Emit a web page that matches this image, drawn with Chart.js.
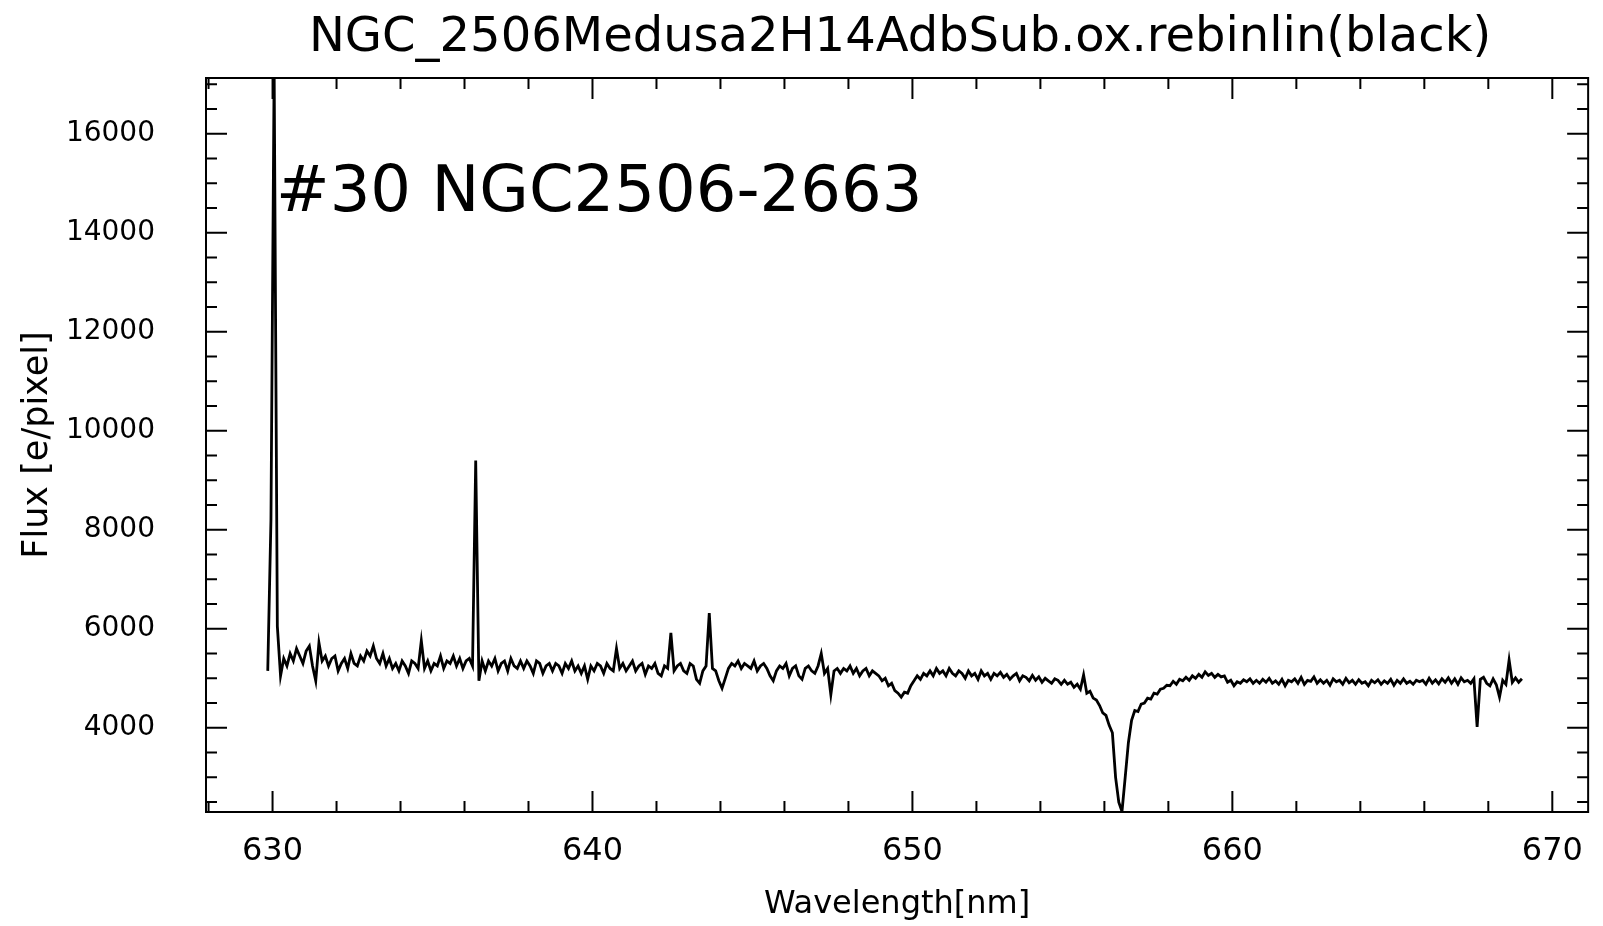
<!DOCTYPE html>
<html>
<head>
<meta charset="utf-8">
<script src="https://cdn.jsdelivr.net/npm/chart.js@4.4.1/dist/chart.umd.min.js"></script>
<style>
  html, body { margin: 0; padding: 0; background: #ffffff; }
  canvas { display: block; }
</style>
</head>
<body>
<canvas id="spectrumChart" width="1603" height="926"></canvas>
<script>
// spectrum sampled every 0.1 nm starting at 629.85 nm
const lambdaStart = 629.85;
const lambdaStep = 0.1;

const flux = [
  5150, 8200, 17300, 6050, 5050, 5400, 5250, 5500, 5350, 5600,
  5450, 5300, 5550, 5650, 5250, 4950, 5720, 5350, 5450, 5250,
  5400, 5450, 5150, 5300, 5400, 5200, 5500, 5300, 5250, 5450,
  5350, 5550, 5450, 5650, 5400, 5300, 5500, 5250, 5400, 5200,
  5300, 5150, 5350, 5250, 5100, 5350, 5300, 5200, 5760, 5200,
  5350, 5150, 5300, 5250, 5450, 5200, 5350, 5300, 5450, 5250,
  5400, 5200, 5350, 5400, 5250, 9400, 4950, 5350, 5150, 5350,
  5250, 5400, 5150, 5300, 5350, 5150, 5400, 5250, 5200, 5350,
  5200, 5350, 5250, 5100, 5350, 5300, 5100, 5250, 5300, 5150,
  5300, 5250, 5100, 5300, 5200, 5350, 5150, 5250, 5100, 5250,
  4980, 5250, 5150, 5300, 5250, 5100, 5300, 5200, 5150, 5600,
  5200, 5300, 5150, 5250, 5350, 5150, 5250, 5300, 5080, 5250,
  5200, 5300, 5100, 5050, 5250, 5200, 5920, 5150, 5250, 5300,
  5150, 5100, 5300, 5250, 4980, 4900, 5150, 5250, 6320, 5200,
  5150, 4950, 4800, 5000, 5200, 5300, 5250, 5350, 5200, 5300,
  5250, 5200, 5350, 5150, 5250, 5300, 5200, 5050, 4950, 5150,
  5250, 5200, 5300, 5050, 5200, 5250, 5050, 4980, 5200, 5250,
  5150, 5100, 5250, 5500, 5100, 5200, 4670, 5150, 5200, 5100,
  5200, 5150, 5250, 5100, 5200, 5050, 5150, 5200, 5050, 5150,
  5100, 5050, 4950, 5000, 4850, 4900, 4750, 4700, 4620, 4720,
  4700, 4850, 4950, 5050, 4980, 5100, 5050, 5150, 5050, 5200,
  5100, 5150, 5050, 5200, 5100, 5050, 5150, 5100, 5000, 5150,
  5050, 5100, 4980, 5150, 5050, 5100, 4980, 5100, 5050, 5120,
  5020, 5080, 4980, 5050, 5100, 4950, 5050, 5020, 4950, 5060,
  4960, 5030, 4920, 5000, 4950, 4900, 4990, 4960, 4880, 4960,
  4880, 4920, 4820, 4880, 4780, 5070, 4700, 4740, 4600, 4560,
  4450, 4300, 4250, 4050, 3900, 3000, 2500, 2310, 3000, 3700,
  4150, 4350, 4330, 4480, 4500, 4600, 4580, 4700, 4680, 4780,
  4800, 4860, 4850, 4940, 4880, 4980, 4950, 5020, 4960, 5050,
  5000, 5080, 5020, 5130, 5060, 5100, 5020, 5080, 5030, 5050,
  4920, 4960, 4850, 4930, 4900, 4970, 4930, 4990, 4900, 4960,
  4900, 4980, 4920, 5000, 4900, 4950, 4880, 4980, 4850, 4960,
  4930, 4990, 4900, 5020, 4880, 4960, 4940, 5030, 4900, 4970,
  4900, 4960, 4860, 4990, 4930, 4960, 4880, 5000, 4910, 4960,
  4880, 4970, 4900, 4930, 4850, 4960, 4910, 4970, 4880, 4950,
  4900, 4980, 4860, 4960, 4900, 4990, 4900, 4940, 4880, 4960,
  4930, 4960, 4880, 5000, 4900, 4970, 4890, 4990, 4920, 5010,
  4900, 4990, 4880, 5010, 4930, 4960, 4900, 4990, 4020, 4980,
  5020, 4900, 4850, 4990, 4870, 4620, 4960, 4880, 5370, 4920,
  5010, 4920, 4990
];

const xTickValues = [630, 640, 650, 660, 670];
const yTickValues = [4000, 6000, 8000, 10000, 12000, 14000, 16000];

const xRange = [627.92, 671.12];
const yRange = [2300, 17125];

const plotTitle = 'NGC_2506Medusa2H14AdbSub.ox.rebinlin(black)';
const starLabel = '#30 NGC2506-2663';
const xAxisTitle = 'Wavelength[nm]';
const yAxisTitle = 'Flux [e/pixel]';

const fontFamily = "'DejaVu Sans', sans-serif";

const points = flux.map((f, i) => ({ x: lambdaStart + i * lambdaStep, y: f }));

// frame, inward tick marks on all four sides, title and star label
const framePlugin = {
  id: 'idlFrame',
  afterDraw(chart) {
    const ctx = chart.ctx;
    const area = chart.chartArea;
    const xs = chart.scales.x;
    const ys = chart.scales.y;
    ctx.save();
    ctx.strokeStyle = '#000';
    ctx.lineWidth = 2;
    ctx.strokeRect(area.left, area.top, area.right - area.left, area.bottom - area.top);

    ctx.beginPath();
    for (let v = 628; v <= 671; v += 2) {
      const px = xs.getPixelForValue(v);
      const len = v % 10 === 0 ? 21 : 11;
      ctx.moveTo(px, area.bottom); ctx.lineTo(px, area.bottom - len);
      ctx.moveTo(px, area.top); ctx.lineTo(px, area.top + len);
    }
    for (let v = 2500; v <= 17000; v += 500) {
      const py = ys.getPixelForValue(v);
      const len = v % 2000 === 0 ? 21 : 11;
      ctx.moveTo(area.left, py); ctx.lineTo(area.left + len, py);
      ctx.moveTo(area.right, py); ctx.lineTo(area.right - len, py);
    }
    ctx.stroke();

    ctx.fillStyle = '#000';
    ctx.textAlign = 'center';
    ctx.textBaseline = 'middle';
    ctx.font = '48px ' + fontFamily;
    ctx.fillText(plotTitle, (area.left + area.right) / 2 + 3, 39);

    ctx.textAlign = 'left';
    ctx.textBaseline = 'alphabetic';
    ctx.font = '64px ' + fontFamily;
    ctx.fillText(starLabel, area.left + 70, area.top + 133);
    ctx.restore();
  }
};

const ctx = document.getElementById('spectrumChart').getContext('2d');

const spectrumChart = new Chart(ctx, {
  type: 'line',
  data: {
    datasets: [
      {
        label: 'Flux',
        data: points,
        borderColor: '#000000',
        borderWidth: 2.8,
        pointRadius: 0,
        tension: 0,
        fill: false
      }
    ]
  },
  options: {
    responsive: false,
    animation: false,
    layout: {
      padding: { top: 78, right: 6, bottom: 0, left: 0 }
    },
    plugins: {
      legend: { display: false },
      tooltip: { enabled: false },
      title: { display: false }
    },
    scales: {
      x: {
        type: 'linear',
        min: xRange[0],
        max: xRange[1],
        grid: { display: false, drawTicks: false },
        border: { display: false },
        afterBuildTicks: (scale) => { scale.ticks = xTickValues.map(v => ({ value: v })); },
        ticks: {
          padding: 20,
          color: '#000',
          font: { family: fontFamily, size: 32 },
          callback: (v) => v.toFixed(0)
        },
        title: {
          display: true,
          text: xAxisTitle,
          color: '#000',
          font: { family: fontFamily, size: 32 },
          padding: { top: 0, bottom: 2 }
        },
        afterFit: (scale) => { scale.height = 114; }
      },
      y: {
        type: 'linear',
        min: yRange[0],
        max: yRange[1],
        grid: { display: false, drawTicks: false },
        border: { display: false },
        afterBuildTicks: (scale) => { scale.ticks = yTickValues.map(v => ({ value: v })); },
        ticks: {
          padding: 51,
          color: '#000',
          font: { family: fontFamily, size: 28 },
          callback: (v) => v.toFixed(0)
        },
        title: {
          display: true,
          text: yAxisTitle,
          color: '#000',
          font: { family: fontFamily, size: 35 },
          padding: { top: 17, bottom: 0 }
        },
        afterFit: (scale) => { scale.width = 206; }
      }
    }
  },
  plugins: [framePlugin]
});
</script>
</body>
</html>
